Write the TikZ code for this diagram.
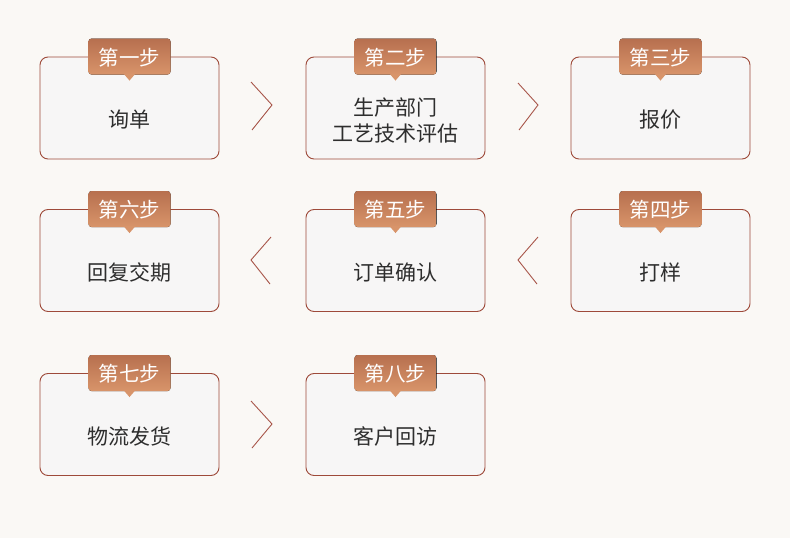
\documentclass[tikz,border=0pt]{standalone}
\usepackage{fontspec}
\setmainfont{Noto Sans CJK SC}
\definecolor{bg}{HTML}{FAF8F5}
\definecolor{boxfill}{HTML}{F7F6F6}
\definecolor{boxline}{HTML}{9E4A3A}
\definecolor{tagtop}{HTML}{B7704F}
\definecolor{tagbot}{HTML}{D8946A}
\definecolor{txt}{HTML}{2E2E2E}
\definecolor{chev}{HTML}{A8564A}
\begin{document}
\begin{tikzpicture}[x=1pt,y=-1pt,
  stepbox/.style={draw=boxline,line width=0.9pt,fill=boxfill,rounded corners=8pt,minimum width=179pt,minimum height=102pt,inner sep=0pt},
  steptext/.style={font=\fontsize{21}{26}\selectfont,text=txt,align=center,inner sep=0pt},
  tagtext/.style={text=white,font=\fontsize{20.5}{24}\selectfont,inner sep=0pt},
  chevline/.style={draw=chev,line width=0.9pt}]
\fill[bg] (0,0) rectangle (790,538);
\useasboundingbox (0,0) rectangle (790,538);
\newcommand{\stepnode}[5]{%
  \node[stepbox] (#1) at (#2,#3) {};
  \node[steptext] (#1x) at ([yshift=-12pt]#1.center) {#5};
  \fill[top color=tagtop,bottom color=tagbot] ([xshift=-41pt,yshift=-18pt]#1.north) [rounded corners=3pt] rectangle ([xshift=41pt,yshift=18pt]#1.north);
  \fill[tagbot] ([xshift=-6pt,yshift=-17pt]#1.north) -- ([xshift=6pt,yshift=-17pt]#1.north) -- ([yshift=-24pt]#1.north) -- cycle;
  \node[tagtext] (#1t) at ([yshift=-1pt]#1.north) {#4};
}
\stepnode{s1}{129.5}{108}{第一步}{询单}
\stepnode{s2}{395.5}{108}{第二步}{生产部门\\工艺技术评估}
\stepnode{s3}{660.5}{108}{第三步}{报价}
\stepnode{s4}{660.5}{260.5}{第四步}{打样}
\stepnode{s5}{395.5}{260.5}{第五步}{订单确认}
\stepnode{s6}{129.5}{260.5}{第六步}{回复交期}
\stepnode{s7}{129.5}{424.5}{第七步}{物流发货}
\stepnode{s8}{395.5}{424.5}{第八步}{客户回访}
% chevrons
\coordinate (c1a) at (251,82); \coordinate (c1b) at (272,105); \coordinate (c1c) at (252,130);
\draw[chevline] (c1a) -- (c1b) -- (c1c);
\coordinate (c2a) at (518,83); \coordinate (c2b) at (538,105); \coordinate (c2c) at (519,130);
\draw[chevline] (c2a) -- (c2b) -- (c2c);
\coordinate (c3a) at (538,237); \coordinate (c3b) at (518,260); \coordinate (c3c) at (537,284);
\draw[chevline] (c3a) -- (c3b) -- (c3c);
\coordinate (c4a) at (271,237); \coordinate (c4b) at (251,260); \coordinate (c4c) at (270,284);
\draw[chevline] (c4a) -- (c4b) -- (c4c);
\coordinate (c5a) at (251,401); \coordinate (c5b) at (272,424); \coordinate (c5c) at (252,448);
\draw[chevline] (c5a) -- (c5b) -- (c5c);
\end{tikzpicture}
\end{document}
